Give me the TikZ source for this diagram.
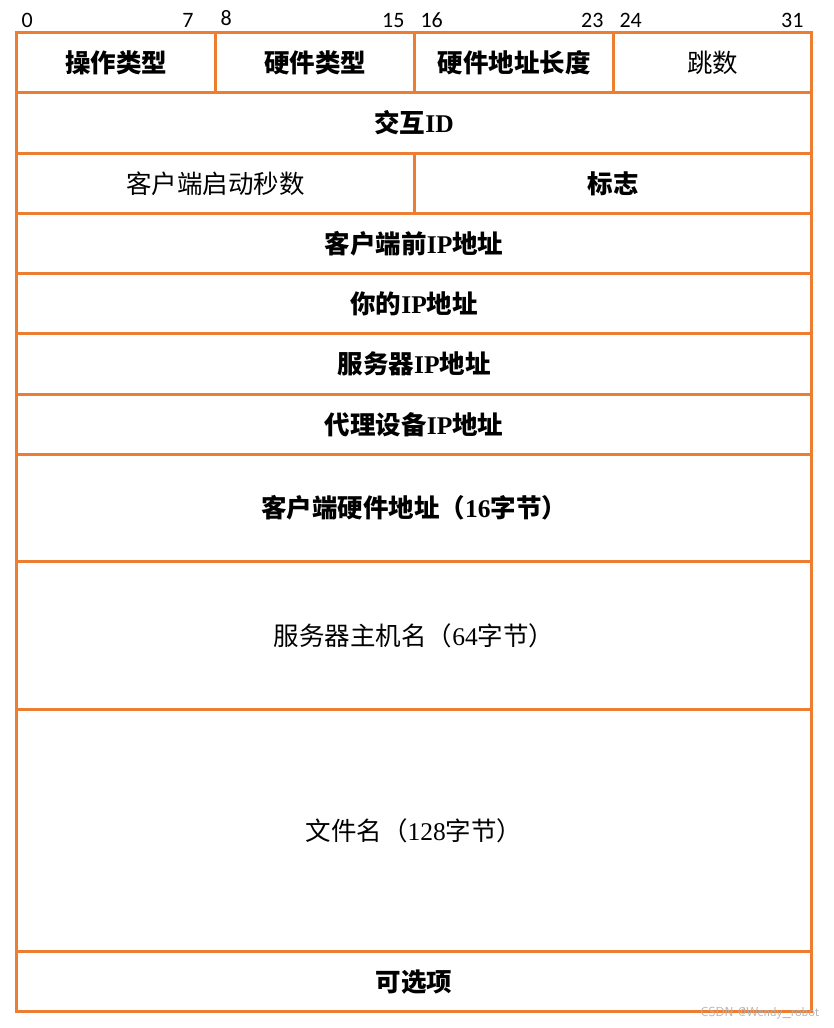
\documentclass[tikz,border=0pt]{standalone}
\usepackage{fontspec}
\setmainfont{Liberation Serif}
\newfontfamily\cjk{Noto Sans CJK SC}
\newfontfamily\numfont{Carlito}
\definecolor{fieldorange}{HTML}{ED7D31}
\newcommand{\zh}[1]{{\cjk #1}}

\begin{document}
\begin{tikzpicture}[x=1pt, y=-1pt,
  field/.style={draw=fieldorange, line width=3.2pt, rectangle, anchor=north west,
    inner sep=0pt, font=\fontsize{25.5}{30}\selectfont},
  bit/.style={font=\numfont\fontsize{22}{26}\selectfont}]
  \useasboundingbox (0,0) rectangle (833,1028);

  % Bit positions above the first row
  \node[bit, anchor=base west] (b0)  at (18,27)  {0};
  \node[bit, anchor=base east] (b7)  at (197,27) {7};
  \node[bit, anchor=base west] (b8)  at (217,25) {8};
  \node[bit, anchor=base east] (b15) at (408,27) {15};
  \node[bit, anchor=base west] (b16) at (417,27) {16};
  \node[bit, anchor=base east] (b23) at (607,27) {23};
  \node[bit, anchor=base west] (b24) at (616,27) {24};
  \node[bit, anchor=base east] (b31) at (807,27) {31};

  % First row: four 8-bit fields
  \node[field, minimum width=199, minimum height=60] (optype) at (15,31)  {\bfseries\zh{操作类型}};
  \node[field, minimum width=199, minimum height=60] (hwtype) at (214,31) {\bfseries\zh{硬件类型}};
  \node[field, minimum width=199, minimum height=60] (hwlen)  at (413,31) {\bfseries\zh{硬件地址长度}};
  \node[field, minimum width=198, minimum height=60] (hops)   at (612,31) {\zh{跳数}};

  % Full-width 32-bit fields
  \node[field, minimum width=795, minimum height=61] (xid) at (15,91) {\bfseries\zh{交互}ID};

  \node[field, minimum width=398, minimum height=60] (secs)  at (15,152)  {\zh{客户端启动秒数}};
  \node[field, minimum width=397, minimum height=60] (flags) at (413,152) {\bfseries\zh{标志}};

  \node[field, minimum width=795, minimum height=60] (ciaddr) at (15,212) {\bfseries\zh{客户端前}IP\zh{地址}};
  \node[field, minimum width=795, minimum height=60] (yiaddr) at (15,272) {\bfseries\zh{你的}IP\zh{地址}};
  \node[field, minimum width=795, minimum height=61] (siaddr) at (15,332) {\bfseries\zh{服务器}IP\zh{地址}};
  \node[field, minimum width=795, minimum height=60] (giaddr) at (15,393) {\bfseries\zh{代理设备}IP\zh{地址}};

  % Variable-size fields
  \node[field, minimum width=795, minimum height=107] (chaddr) at (15,453)
    {\bfseries\zh{客户端硬件地址（}16\zh{字节）}};
  \node[field, minimum width=795, minimum height=148] (sname) at (15,560)
    {\zh{服务器主机名（}64\zh{字节）}};
  \node[field, minimum width=795, minimum height=242] (file) at (15,708)
    {\zh{文件名（}128\zh{字节）}};
  \node[field, minimum width=795, minimum height=60] (options) at (15,950)
    {\bfseries\zh{可选项}};

  % Watermark
  \node[anchor=east, text=gray!60, font=\sffamily\fontsize{13}{15}\selectfont] (mark) at (823,1013) {CSDN @Wendy\_robot};
\end{tikzpicture}
\end{document}
